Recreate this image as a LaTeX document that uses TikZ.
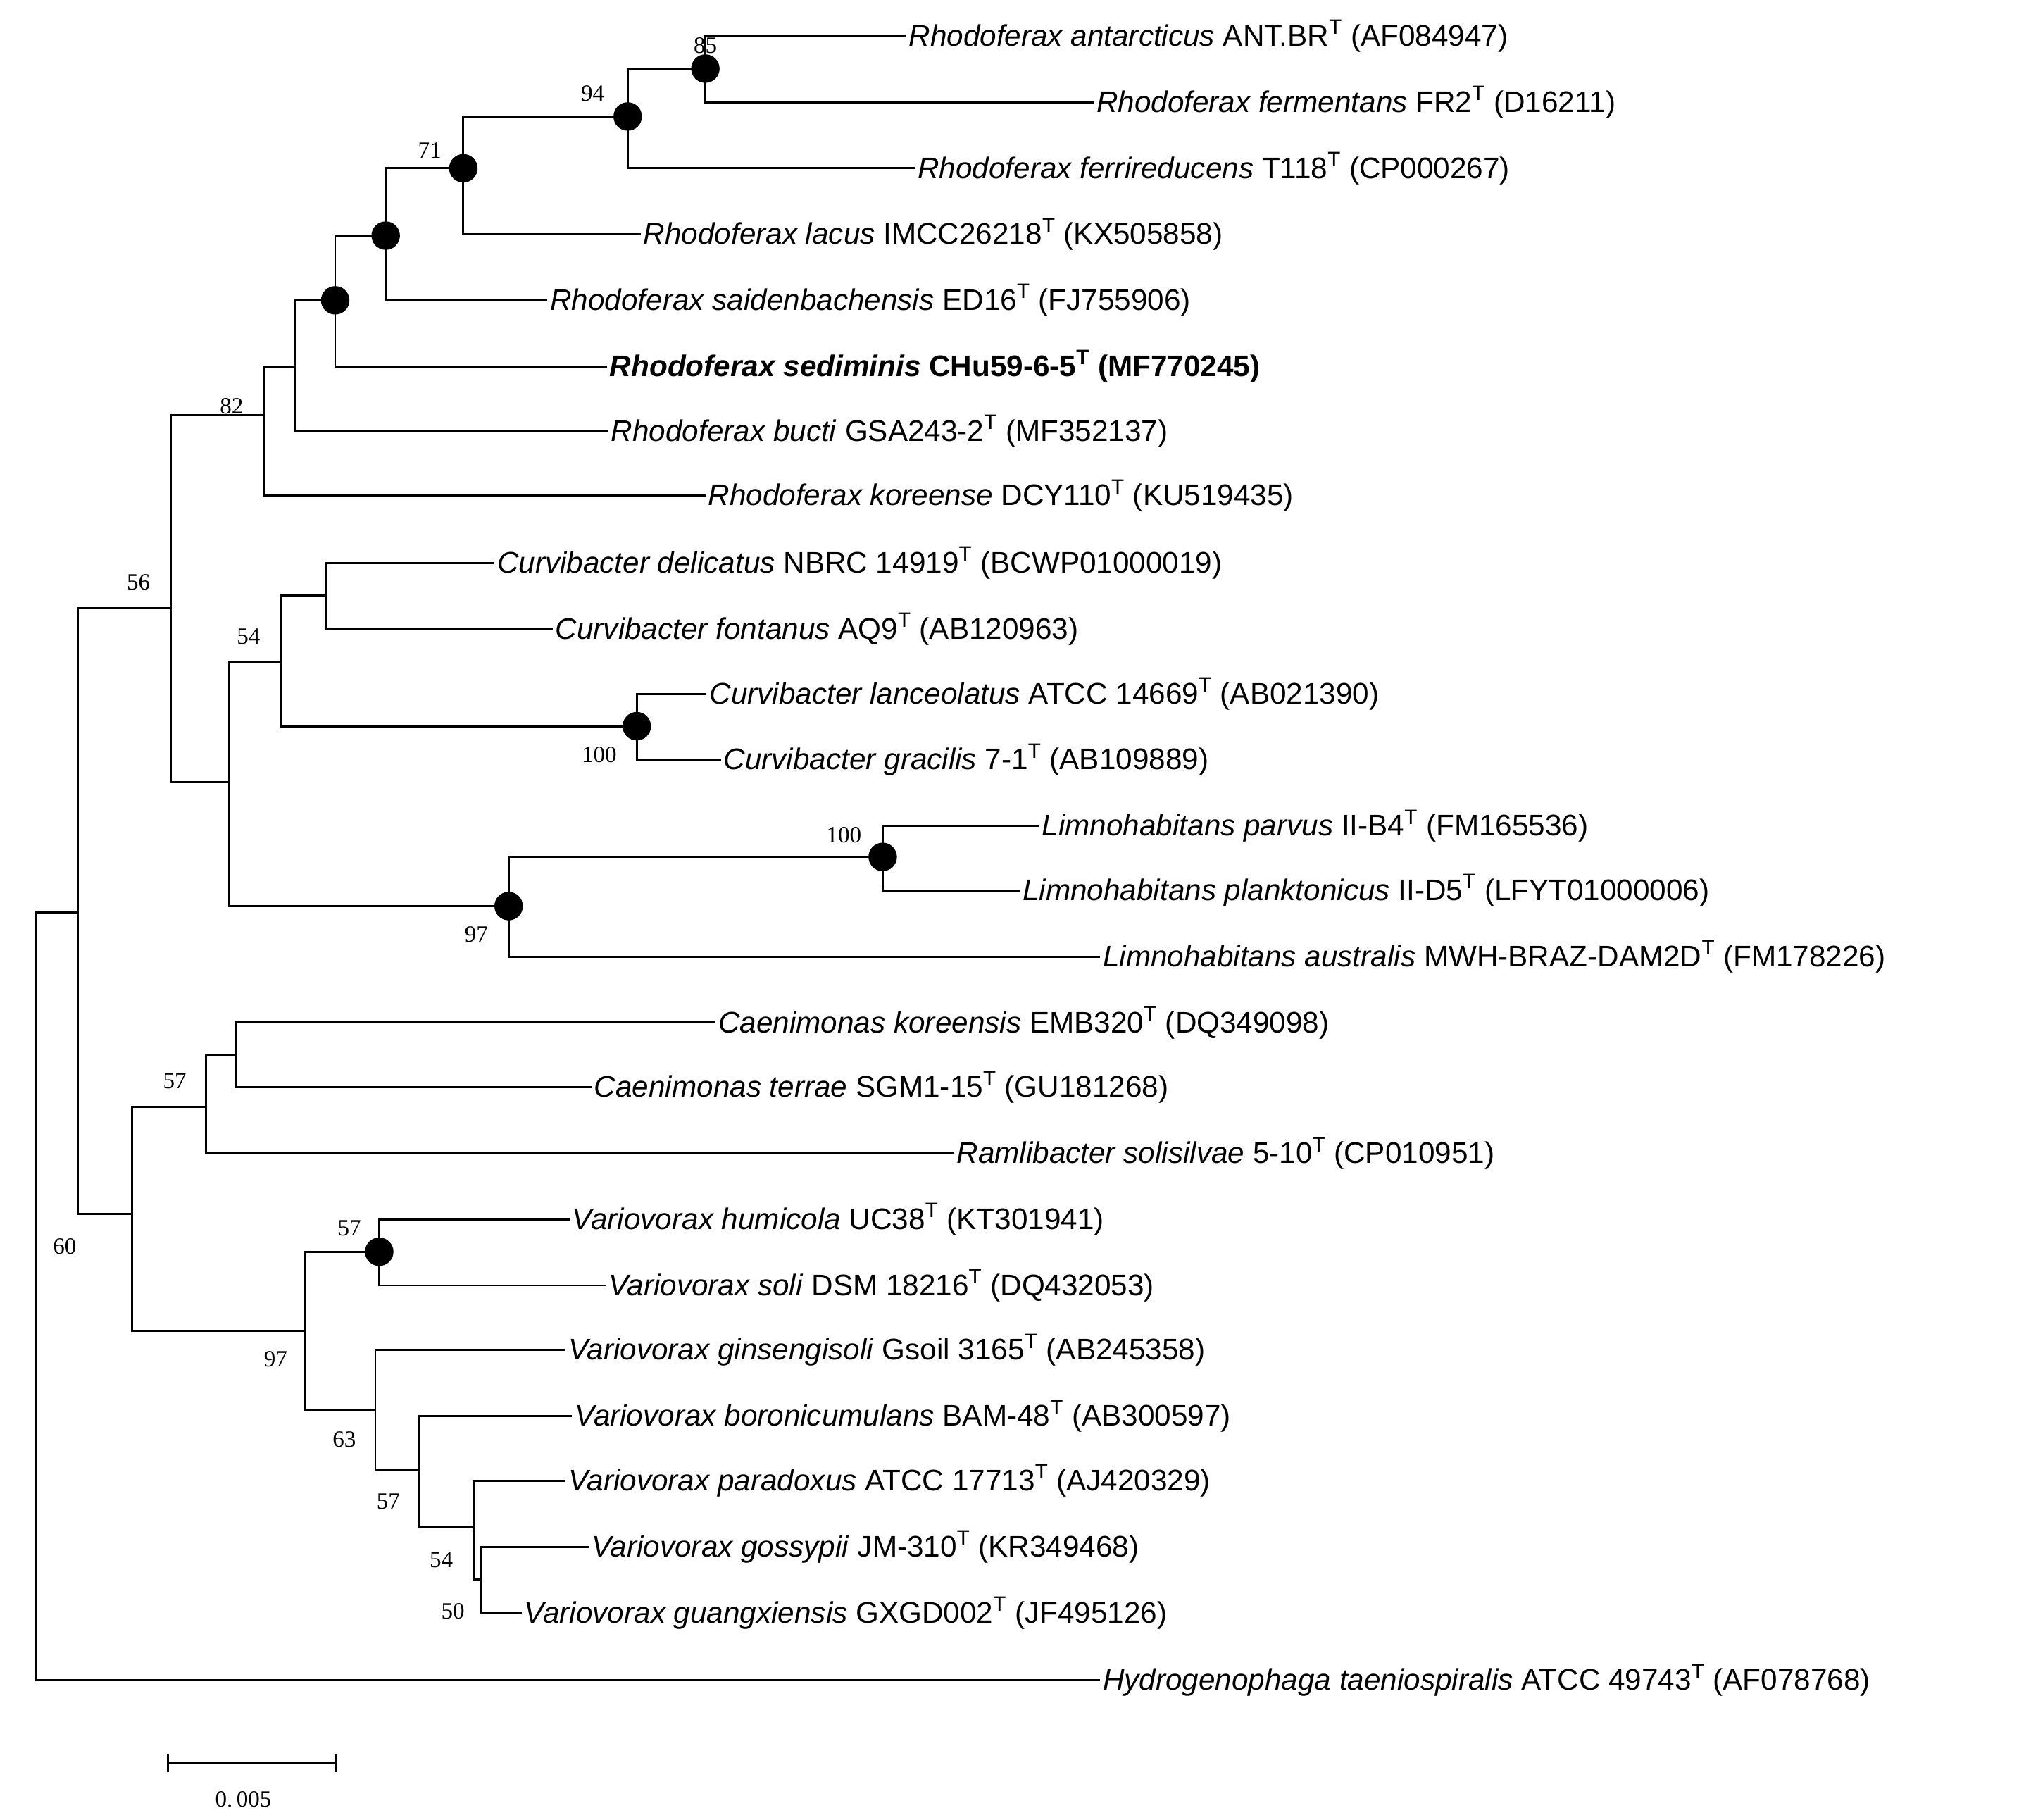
\documentclass[tikz,border=0pt]{standalone}
\usepackage{fontspec}
\setmainfont{Liberation Sans}
\newfontfamily\bsf{Liberation Serif}
\begin{document}
\begin{tikzpicture}[x=1pt,y=-1pt,
 leaf/.style={anchor=west,inner sep=0pt,font=\fontsize{23}{26}\selectfont},
 bs/.style={font=\bsf\fontsize{18}{20}\selectfont,inner sep=0pt},
 br/.style={line width=1.6pt},
 dot/.style={circle,fill=black,inner sep=0pt,minimum size=22pt}]
\useasboundingbox (0,0) rectangle (1560,1406);
% leaves
\node[leaf] (l1) at (702,28) {\textit{Rhodoferax antarcticus} ANT.BR\textsuperscript{T} (AF084947)};
\node[leaf] (l2) at (847,79) {\textit{Rhodoferax fermentans} FR2\textsuperscript{T} (D16211)};
\node[leaf] (l3) at (709,130) {\textit{Rhodoferax ferrireducens} T118\textsuperscript{T} (CP000267)};
\node[leaf] (l4) at (497,181) {\textit{Rhodoferax lacus} IMCC26218\textsuperscript{T} (KX505858)};
\node[leaf] (l5) at (425,232) {\textit{Rhodoferax saidenbachensis} ED16\textsuperscript{T} (FJ755906)};
\node[leaf] (l6) at (471,283) {\textbf{\textit{Rhodoferax sediminis} CHu59-6-5\textsuperscript{T} (MF770245)}};
\node[leaf] (l7) at (472,333) {\textit{Rhodoferax bucti} GSA243-2\textsuperscript{T} (MF352137)};
\node[leaf] (l8) at (547,383) {\textit{Rhodoferax koreense} DCY110\textsuperscript{T} (KU519435)};
\node[leaf] (l9) at (384,435) {\textit{Curvibacter delicatus} NBRC 14919\textsuperscript{T} (BCWP01000019)};
\node[leaf] (l10) at (429,486) {\textit{Curvibacter fontanus} AQ9\textsuperscript{T} (AB120963)};
\node[leaf] (l11) at (548,536) {\textit{Curvibacter lanceolatus} ATCC 14669\textsuperscript{T} (AB021390)};
\node[leaf] (l12) at (559,587) {\textit{Curvibacter gracilis} 7-1\textsuperscript{T} (AB109889)};
\node[leaf] (l13) at (805,638) {\textit{Limnohabitans parvus} II-B4\textsuperscript{T} (FM165536)};
\node[leaf] (l14) at (790,688) {\textit{Limnohabitans planktonicus} II-D5\textsuperscript{T} (LFYT01000006)};
\node[leaf] (l15) at (852,739) {\textit{Limnohabitans australis} MWH-BRAZ-DAM2D\textsuperscript{T} (FM178226)};
\node[leaf] (l16) at (555,790) {\textit{Caenimonas koreensis} EMB320\textsuperscript{T} (DQ349098)};
\node[leaf] (l17) at (459,840) {\textit{Caenimonas terrae} SGM1-15\textsuperscript{T} (GU181268)};
\node[leaf] (l18) at (739,891) {\textit{Ramlibacter solisilvae} 5-10\textsuperscript{T} (CP010951)};
\node[leaf] (l19) at (442,942) {\textit{Variovorax humicola} UC38\textsuperscript{T} (KT301941)};
\node[leaf] (l20) at (470,993) {\textit{Variovorax soli} DSM 18216\textsuperscript{T} (DQ432053)};
\node[leaf] (l21) at (439,1043) {\textit{Variovorax ginsengisoli} Gsoil 3165\textsuperscript{T} (AB245358)};
\node[leaf] (l22) at (444,1094) {\textit{Variovorax boronicumulans} BAM-48\textsuperscript{T} (AB300597)};
\node[leaf] (l23) at (439,1144) {\textit{Variovorax paradoxus} ATCC 17713\textsuperscript{T} (AJ420329)};
\node[leaf] (l24) at (457,1195) {\textit{Variovorax gossypii} JM-310\textsuperscript{T} (KR349468)};
\node[leaf] (l25) at (405,1246) {\textit{Variovorax guangxiensis} GXGD002\textsuperscript{T} (JF495126)};
\node[leaf] (l26) at (852,1298) {\textit{Hydrogenophaga taeniospiralis} ATCC 49743\textsuperscript{T} (AF078768)};
% internal nodes
\coordinate (R) at (28,1001);
\coordinate (A) at (60,705);
\coordinate (B) at (132,470);
\coordinate (C) at (204,321);
\coordinate (D) at (228,283);
\coordinate (E) at (259,232);
\coordinate (F) at (298,182);
\coordinate (G) at (358,130);
\coordinate (H) at (485,90);
\coordinate (I) at (545,53);
\coordinate (J) at (177,604);
\coordinate (K) at (217,511);
\coordinate (L) at (252,460);
\coordinate (M) at (492,561);
\coordinate (N) at (393,700);
\coordinate (O) at (682,662);
\coordinate (P) at (102,938);
\coordinate (Q) at (159,855);
\coordinate (Rr) at (182,815);
\coordinate (S) at (236,1028);
\coordinate (T) at (293,967);
\coordinate (U) at (290,1089);
\coordinate (V) at (324,1136);
\coordinate (W) at (366,1180);
\coordinate (X) at (372,1220);
\begin{scope}[br]
\draw (R) |- (A); \draw (R) |- ([xshift=-2pt]l26.west);
\draw (A) |- (B); \draw (A) |- (P);
\draw (B) |- (C); \draw (B) |- (J);
\draw (C) |- (D); \draw (C) |- ([xshift=-2pt]l8.west);
\draw (D) |- (E); \draw (D) |- ([xshift=-2pt]l7.west);
\draw (E) |- (F); \draw (E) |- ([xshift=-2pt]l6.west);
\draw (F) |- (G); \draw (F) |- ([xshift=-2pt]l5.west);
\draw (G) |- (H); \draw (G) |- ([xshift=-2pt]l4.west);
\draw (H) |- (I); \draw (H) |- ([xshift=-2pt]l3.west);
\draw (I) |- ([xshift=-2pt]l1.west); \draw (I) |- ([xshift=-2pt]l2.west);
\draw (J) |- (K); \draw (J) |- (N);
\draw (K) |- (L); \draw (K) |- (M);
\draw (L) |- ([xshift=-2pt]l9.west); \draw (L) |- ([xshift=-2pt]l10.west);
\draw (M) |- ([xshift=-2pt]l11.west); \draw (M) |- ([xshift=-2pt]l12.west);
\draw (N) |- (O); \draw (N) |- ([xshift=-2pt]l15.west);
\draw (O) |- ([xshift=-2pt]l13.west); \draw (O) |- ([xshift=-2pt]l14.west);
\draw (P) |- (Q); \draw (P) |- (S);
\draw (Q) |- (Rr); \draw (Q) |- ([xshift=-2pt]l18.west);
\draw (Rr) |- ([xshift=-2pt]l16.west); \draw (Rr) |- ([xshift=-2pt]l17.west);
\draw (S) |- (T); \draw (S) |- (U);
\draw (T) |- ([xshift=-2pt]l19.west); \draw (T) |- ([xshift=-2pt]l20.west);
\draw (U) |- ([xshift=-2pt]l21.west); \draw (U) |- (V);
\draw (V) |- ([xshift=-2pt]l22.west); \draw (V) |- (W);
\draw (W) |- ([xshift=-2pt]l23.west); \draw (W) |- (X);
\draw (X) |- ([xshift=-2pt]l24.west); \draw (X) |- ([xshift=-2pt]l25.west);
\end{scope}
% dots
\foreach \c in {E,F,G,H,I,M,N,O,T} \node[dot] at (\c) {};
% bootstrap
\node[bs] at (545,35) {85};
\node[bs] at (458,72) {94};
\node[bs] at (332,116) {71};
\node[bs] at (179,314) {82};
\node[bs] at (107,450) {56};
\node[bs] at (192,492) {54};
\node[bs] at (463,583) {100};
\node[bs] at (368,722) {97};
\node[bs] at (652,645) {100};
\node[bs] at (135,835) {57};
\node[bs] at (50,963) {60};
\node[bs] at (270,949) {57};
\node[bs] at (213,1050) {97};
\node[bs] at (266,1112) {63};
\node[bs] at (300,1160) {57};
\node[bs] at (341,1205) {54};
\node[bs] at (350,1245) {50};
% scale bar
\coordinate (s1) at (130,1362); \coordinate (s2) at (260,1362);
\draw[br] (s1) -- (s2);
\draw[br] ([yshift=-7pt]s1) -- ([yshift=7pt]s1);
\draw[br] ([yshift=-7pt]s2) -- ([yshift=7pt]s2);
\node[bs] (sl) at (188,1390) {0.\,005};
\end{tikzpicture}
\end{document}
